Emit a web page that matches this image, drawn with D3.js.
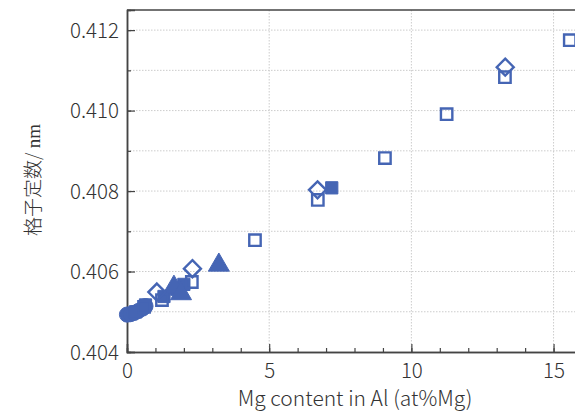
<!DOCTYPE html>
<html><head><meta charset="utf-8">
<script src="https://cdn.jsdelivr.net/npm/d3@7"></script>
<style>body{margin:0;background:#fff}svg{display:block}</style>
</head><body><svg id="c" width="575" height="412"></svg>
<script>
const openSquares = [[0.6,0.40512],[1.23,0.40529],[2.28,0.40574],[4.5,0.40678],[6.71,0.40778],[9.07,0.40882],[11.24,0.40991],[13.29,0.41083],[15.57,0.41175]];
const openDiamonds = [[1.05,0.40549],[2.3,0.40607],[6.7,0.40803],[13.3,0.41108]];
const filledSquares = [[0.3,0.40500],[0.65,0.40517],[1.3,0.40538],[1.75,0.40556],[2.0,0.40568],[7.2,0.40808]];
const filledTriangles = [[1.65,0.40561],[1.9,0.40545],[3.23,0.40616]];
const filledCircles = [[0.0,0.40493],[0.12,0.40494],[0.25,0.40497],[0.4,0.40502],[0.55,0.40508],[0.65,0.40514]];
const xTicks = [0,5,10,15];
const yTicks = [0.404,0.406,0.408,0.410,0.412];

const svg = d3.select("#c");
const x = d3.scaleLinear().domain([0,16]).range([127,582]);
const y = d3.scaleLinear().domain([0.404,0.4125]).range([352,10]);
const col = "#4565b4";
const txt = "#333";
const font = "'Noto Sans CJK JP', 'Noto Sans', sans-serif";

// grid
const g = svg.append("g");
g.selectAll("line.hg").data(d3.range(0.405,0.4125,0.001)).join("line")
 .attr("x1",127).attr("x2",582).attr("y1",d=>y(d)).attr("y2",d=>y(d))
 .attr("stroke","#ccc").attr("stroke-dasharray","1.5,1.5").attr("stroke-width",1);
g.selectAll("line.vg").data([5,10,15]).join("line")
 .attr("y1",10).attr("y2",352).attr("x1",d=>x(d)).attr("x2",d=>x(d))
 .attr("stroke","#ccc").attr("stroke-dasharray","1.5,1.5").attr("stroke-width",1);

// top border
svg.append("line").attr("x1",127).attr("x2",582).attr("y1",10).attr("y2",10).attr("stroke","#444").attr("stroke-width",1.5);

// axes
const xMinor = svg.append("g").attr("transform","translate(0,352)")
 .call(d3.axisBottom(x).tickValues(d3.range(0,17,1)).tickSize(-4).tickFormat(""));
const xAx = svg.append("g").attr("transform","translate(0,352)")
 .call(d3.axisBottom(x).tickValues(xTicks).tickSize(-8).tickPadding(11).tickFormat(d3.format("d")));
const yMinor = svg.append("g").attr("transform","translate(127,0)")
 .call(d3.axisLeft(y).tickValues(d3.range(0.405,0.4125,0.001)).tickSize(-4).tickFormat(""));
const yAx = svg.append("g").attr("transform","translate(127,0)")
 .call(d3.axisLeft(y).tickValues(yTicks).tickSize(-8).tickPadding(8).tickFormat(d3.format(".3f")));
[xMinor,xAx,yMinor,yAx].forEach(a=>{
  a.select(".domain").attr("stroke","#444").attr("stroke-width",1.5);
  a.selectAll(".tick line").attr("stroke","#444").attr("stroke-width",1.2);
  a.selectAll("text").attr("fill",txt).style("font-family",font).style("font-size","20.5px").style("font-weight","300");
});
xAx.selectAll("text").attr("dy","0.71em");
yAx.selectAll("text").attr("dy","0.35em");

// markers
const diamondPath = s => `M0,${-s}L${s},0L0,${s}L${-s},0Z`;
function plot(data,pathD,filled){
  svg.append("g").selectAll("path").data(data).join("path")
   .attr("transform",d=>`translate(${x(d[0])},${y(d[1])})`)
   .attr("d",pathD)
   .attr("fill",filled?col:"none").attr("stroke",col)
   .attr("stroke-width",filled?1:2.4);
}
plot(filledCircles,d3.symbol().type(d3.symbolCircle).size(180)(),true);
plot(filledSquares,d3.symbol().type(d3.symbolSquare).size(150)(),true);
plot(filledTriangles,d3.symbol().type(d3.symbolTriangle).size(190)(),true);
plot(openSquares,d3.symbol().type(d3.symbolSquare).size(130)(),false);
plot(openDiamonds,diamondPath(8.5),false);

// labels
svg.append("text").attr("x",355).attr("y",406).attr("text-anchor","middle")
 .attr("fill",txt).style("font-family",font).style("font-size","21px").style("font-weight","300")
 .text("Mg content in Al (at%Mg)");
const yl = svg.append("text").attr("transform","translate(40,180) rotate(-90)").attr("text-anchor","middle")
 .attr("fill",txt).style("font-size","19px");
yl.append("tspan").style("font-family","'Noto Sans CJK JP', sans-serif").style("font-weight","300").text("格子定数/ ");
yl.append("tspan").style("font-family","'Liberation Serif', serif").text("nm");
</script></body></html>
